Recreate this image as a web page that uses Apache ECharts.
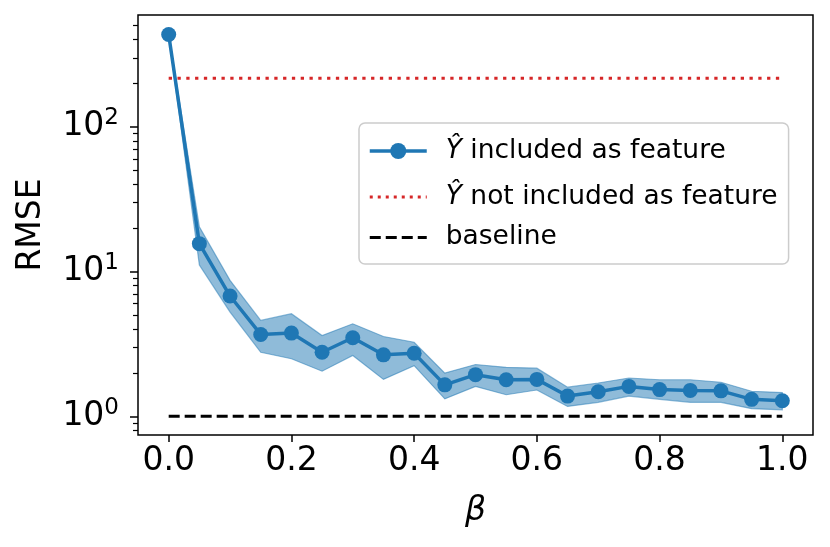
<!DOCTYPE html>
<html>
<head>
<meta charset="utf-8">
<script src="https://cdn.jsdelivr.net/npm/echarts@6/dist/echarts.min.js"></script>
<style>
  html, body { margin: 0; padding: 0; background: #fff; }
  #chart { width: 830px; height: 547px; }
</style>
</head>
<body>
<div id="chart"></div>
<script>
'use strict';

// beta values on the x axis
var betas = [0, 0.05, 0.1, 0.15, 0.2, 0.25, 0.3, 0.35, 0.4, 0.45, 0.5,
             0.55, 0.6, 0.65, 0.7, 0.75, 0.8, 0.85, 0.9, 0.95, 1.0];
// RMSE with Y-hat as feature (mean and band)
var rmseMean  = [435, 15.6, 6.78, 3.68, 3.76, 2.77, 3.49, 2.66, 2.73, 1.65, 1.94,
                 1.79, 1.80, 1.38, 1.48, 1.61, 1.53, 1.51, 1.50, 1.31, 1.28];
var rmseUpper = [440, 20.4, 8.7, 4.6, 5.12, 3.62, 4.36, 3.56, 3.25, 1.99, 2.28,
                 2.18, 2.15, 1.59, 1.70, 1.84, 1.79, 1.79, 1.72, 1.49, 1.46];
var rmseLower = [430, 11.1, 5.25, 2.77, 2.50, 2.05, 2.63, 1.80, 2.24, 1.32, 1.61,
                 1.41, 1.52, 1.17, 1.25, 1.38, 1.31, 1.25, 1.25, 1.13, 1.11];
// flat references
var refX = [0, 1.0];
var notIncluded = [217, 217];
var baseline = [1, 1];
// tick values
var xTicks = [0, 0.2, 0.4, 0.6, 0.8, 1.0];
var yMajor = [1, 10, 100];
var yMinor = [0.8, 0.9, 2, 3, 4, 5, 6, 7, 8, 9, 20, 30, 40, 50, 60, 70, 80, 90, 200, 300, 400, 500];

var FONT = 'DejaVu Sans';
var BLUE = '#1f77b4';

function pairs(xs, ys) {
    var out = [];
    for (var i = 0; i < xs.length; i++) out.push([xs[i], ys[i]]);
    return out;
}
var bandData = betas.map(function (b, i) { return [b, rmseLower[i], rmseUpper[i]]; });

// band drawn once as a single polygon: upper edge forward, lower edge back
function renderBand(params, api) {
    if (params.dataIndex !== 0) return;
    var pts = [];
    var i;
    for (i = 0; i < bandData.length; i++) pts.push(api.coord([bandData[i][0], bandData[i][2]]));
    for (i = bandData.length - 1; i >= 0; i--) pts.push(api.coord([bandData[i][0], bandData[i][1]]));
    return {
        type: 'polygon',
        shape: {points: pts},
        style: {fill: 'rgba(31,119,180,0.5)', stroke: 'rgba(31,119,180,0.5)', lineWidth: 1.2}
    };
}

var legendText = {
    hat_in: '{h|Ŷ}{t| included as feature}',
    hat_out: '{h|Ŷ}{t| not included as feature}',
    baseline: '{u|baseline}'
};

var chart = echarts.init(document.getElementById('chart'), null, {renderer: 'canvas'});

var yBase = {
    type: 'log',
    logBase: 10,
    min: 0.743,
    max: 593,
    position: 'left',
    splitLine: {show: false},
    axisLine: {show: false, onZero: false}
};

chart.setOption({
    animation: false,
    backgroundColor: '#fff',
    grid: {
        left: 138, right: 17, top: 15, bottom: 112,
        show: true, borderColor: '#000', borderWidth: 1.5, backgroundColor: 'transparent'
    },
    xAxis: {
        type: 'value',
        min: -0.05,
        max: 1.05,
        name: 'β',
        nameLocation: 'middle',
        nameGap: 60,
        nameTextStyle: {fontFamily: FONT, fontSize: 33, fontStyle: 'italic', color: '#000'},
        splitLine: {show: false},
        axisLine: {show: false, onZero: false},
        axisTick: {show: true, customValues: xTicks, length: 7, lineStyle: {color: '#000', width: 1.5}},
        axisLabel: {
            customValues: xTicks,
            margin: 10,
            fontFamily: FONT, fontSize: 33, color: '#000',
            formatter: function (v) { return v.toFixed(1); }
        }
    },
    yAxis: [
        Object.assign({}, yBase, {
            name: 'RMSE',
            nameLocation: 'middle',
            nameGap: 90,
            nameTextStyle: {fontFamily: FONT, fontSize: 33, color: '#000'},
            axisTick: {show: true, customValues: yMajor, length: 8, lineStyle: {color: '#000', width: 1.5}},
            axisLabel: {
                customValues: yMajor,
                margin: 19,
                color: '#000',
                formatter: function (v) {
                    return '{b|10}{s|' + Math.round(Math.log10(v)) + '}';
                },
                rich: {
                    b: {fontFamily: FONT, fontSize: 33, lineHeight: 40, color: '#000'},
                    s: {fontFamily: FONT, fontSize: 23, lineHeight: 20, verticalAlign: 'top', color: '#000'}
                }
            }
        }),
        Object.assign({}, yBase, {
            axisTick: {show: true, customValues: yMinor, length: 5, lineStyle: {color: '#000', width: 1.2}},
            axisLabel: {show: false}
        })
    ],
    legend: {
        data: [
            {name: 'hat_in', lineStyle: {width: 3.5}},
            {name: 'hat_out', itemStyle: {opacity: 0}, lineStyle: {width: 3, type: [3, 5]}},
            {name: 'baseline', itemStyle: {opacity: 0}, lineStyle: {width: 3, type: [11, 5]}}
        ],
        orient: 'vertical',
        left: 359,
        top: 123,
        itemWidth: 57,
        itemHeight: 20,
        itemGap: 8,
        padding: [9, 11, 13, 9],
        backgroundColor: 'rgba(255,255,255,0.8)',
        borderColor: '#cccccc',
        borderWidth: 1.5,
        borderRadius: 6,
        formatter: function (name) { return '{sp| }' + legendText[name]; },
        textStyle: {
            fontFamily: FONT, fontSize: 26.5, color: '#000',
            rich: {
                sp: {width: 14, fontSize: 26.5, fontFamily: FONT},
                h: {fontFamily: FONT, fontSize: 26.5, fontStyle: 'italic', height: 38, lineHeight: 38, color: '#000'},
                t: {fontFamily: FONT, fontSize: 26.5, height: 38, lineHeight: 38, color: '#000'},
                u: {fontFamily: FONT, fontSize: 26.5, height: 25, lineHeight: 25, color: '#000'}
            }
        }
    },
    series: [
        {
            name: 'band',
            type: 'custom',
            data: bandData,
            renderItem: renderBand,
            silent: true,
            z: 1
        },
        {
            name: 'hat_out',
            type: 'line',
            data: pairs(refX, notIncluded),
            symbol: 'none',
            itemStyle: {color: '#d62728'},
            lineStyle: {color: '#d62728', width: 3, type: [3.3, 5.5]},
            z: 2
        },
        {
            name: 'baseline',
            type: 'line',
            data: pairs(refX, baseline),
            symbol: 'none',
            itemStyle: {color: '#000'},
            lineStyle: {color: '#000', width: 3, type: [11, 5]},
            z: 2
        },
        {
            name: 'hat_in',
            type: 'line',
            data: pairs(betas, rmseMean),
            symbol: 'circle',
            symbolSize: 15,
            itemStyle: {color: BLUE},
            lineStyle: {color: BLUE, width: 3.5},
            z: 3
        }
    ]
});
</script>
</body>
</html>
